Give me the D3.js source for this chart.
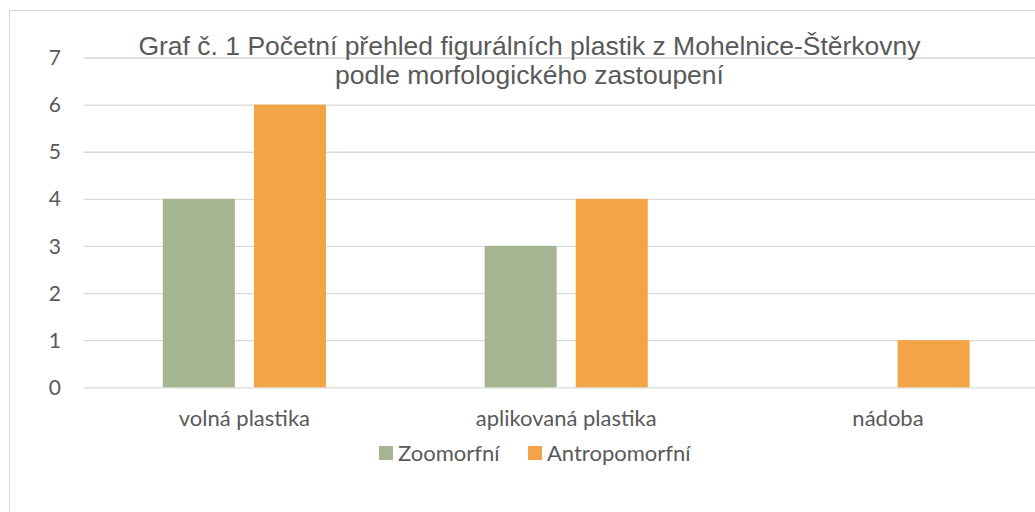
<!DOCTYPE html>
<html>
<head>
<meta charset="utf-8">
<script src="https://cdn.jsdelivr.net/npm/d3@7"></script>
<style>
  body { margin: 0; background: #fff; }
  svg { display: block; }
</style>
</head>
<body>
<div id="app"></div>
<script>
const categories = ["volná plastika", "aplikovaná plastika", "nádoba"];
const seriesNames = ["Zoomorfní", "Antropomorfní"];
const zoomorfni = [4, 3, 0];
const antropomorfni = [6, 4, 1];
const yTicks = [0, 1, 2, 3, 4, 5, 6, 7];
const titleLines = [
  "Graf č. 1 Početní přehled figurálních plastik z Mohelnice-Štěrkovny",
  "podle morfologického zastoupení"
];

const colors = ["#a5b592", "#f3a447"];
const textColor = "#595959";
const gridColor = "#d9d9d9";
const labelFont = "Lato, 'Open Sans', sans-serif";

const width = 1035
    , height = 512
    , margin = { top: 57.5, left: 83.5, bottom: 124.7 }
    , plotW = 965.4
    , plotH = height - margin.top - margin.bottom;

const svg = d3.select("#app").append("svg")
    .attr("width", width)
    .attr("height", height);

// chart area border
svg.append("rect")
    .attr("x", 9.5).attr("y", 10.5)
    .attr("width", 1100).attr("height", 600)
    .attr("fill", "#fff")
    .attr("stroke", gridColor);

const x = d3.scaleBand()
    .domain(categories)
    .range([margin.left, margin.left + plotW]);

const xSub = d3.scaleBand()
    .domain(seriesNames)
    .range([0, x.bandwidth()])
    .paddingInner(0.21)
    .paddingOuter(0.87);

const y = d3.scaleLinear()
    .domain([0, 7])
    .range([margin.top + plotH, margin.top]);

// gridlines
svg.append("g")
    .attr("transform", `translate(${margin.left},0)`)
    .call(d3.axisLeft(y).tickValues(yTicks).tickSize(-plotW).tickFormat(""))
    .call(g => g.select(".domain").remove())
    .call(g => g.selectAll("line").attr("stroke", gridColor).attr("stroke-width", 1.3));

// y labels
svg.append("g")
    .selectAll("text")
      .data(yTicks)
    .enter().append("text")
      .attr("x", 61)
      .attr("y", d => y(d))
      .attr("dy", "0.36em")
      .attr("text-anchor", "end")
      .attr("fill", textColor)
      .style("font-family", labelFont)
      .style("font-size", "21px")
      .text(d => d);

// bars
const rows = categories.map((c, i) => ({ cat: c, values: [zoomorfni[i], antropomorfni[i]] }));

svg.append("g")
    .selectAll("g")
      .data(rows)
    .enter().append("g")
      .attr("transform", d => `translate(${x(d.cat)},0)`)
    .selectAll("rect")
      .data(d => d.values.map((v, j) => ({ key: seriesNames[j], value: v, color: colors[j] })))
    .enter().filter(d => d.value > 0).append("rect")
      .attr("x", d => xSub(d.key))
      .attr("width", xSub.bandwidth())
      .attr("y", d => y(d.value))
      .attr("height", d => y(0) - y(d.value))
      .attr("fill", d => d.color);

// category labels
svg.append("g")
    .selectAll("text")
      .data(categories)
    .enter().append("text")
      .attr("x", d => x(d) + x.bandwidth() / 2)
      .attr("y", 426)
      .attr("text-anchor", "middle")
      .attr("fill", textColor)
      .style("font-family", labelFont)
      .style("font-size", "22px")
      .text(d => d);

// title
svg.append("text")
    .attr("x", 529.5)
    .attr("y", 55)
    .attr("text-anchor", "middle")
    .attr("fill", textColor)
    .style("font-family", "'Liberation Sans', Arial, sans-serif")
    .style("font-size", "26.5px")
  .selectAll("tspan")
    .data(titleLines)
  .enter().append("tspan")
    .attr("x", 529.5)
    .attr("dy", (d, i) => i ? 28.5 : 0)
    .text(d => d);

// legend
const legendX = [379, 528];
const legend = svg.append("g")
  .selectAll("g")
    .data(seriesNames)
  .enter().append("g")
    .attr("transform", (d, i) => `translate(${legendX[i]},446)`);

legend.append("rect")
    .attr("width", 14)
    .attr("height", 14)
    .attr("fill", (d, i) => colors[i]);

legend.append("text")
    .attr("x", 19)
    .attr("y", 14.5)
    .attr("fill", textColor)
    .style("font-family", labelFont)
    .style("font-size", "22px")
    .text(d => d);
</script>
</body>
</html>
